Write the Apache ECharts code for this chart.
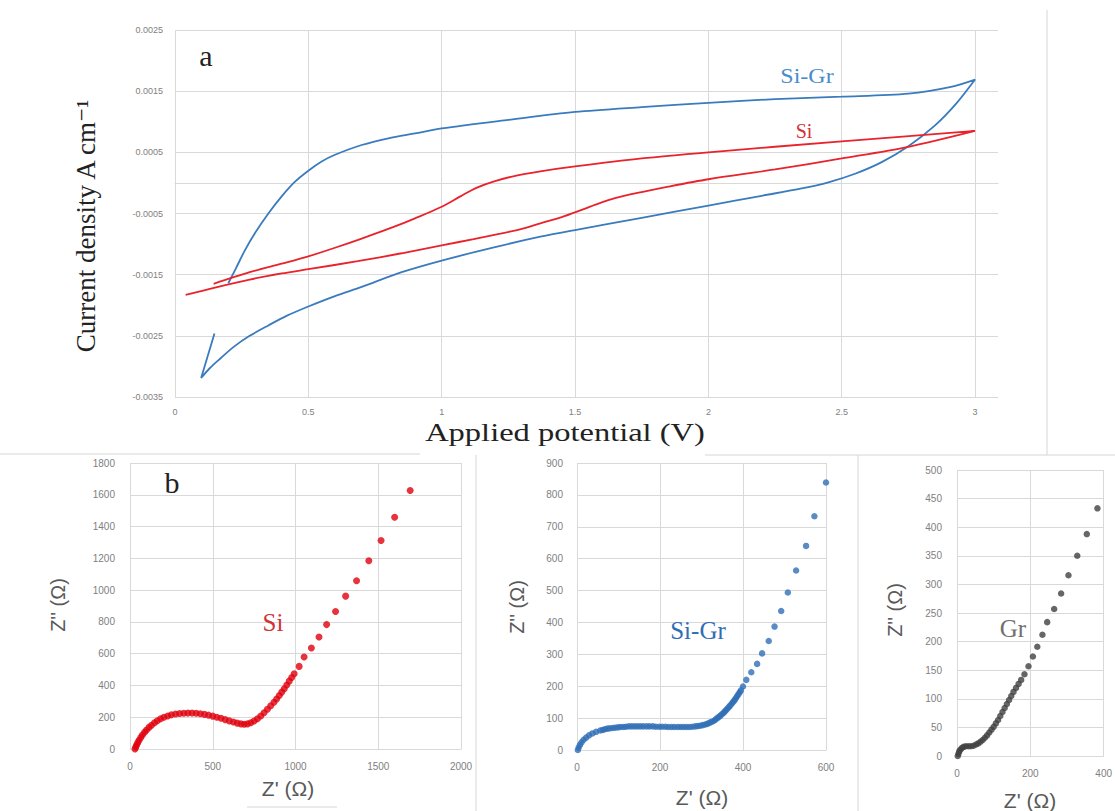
<!DOCTYPE html>
<html>
<head>
<meta charset="utf-8">
<script src="https://cdn.jsdelivr.net/npm/echarts@6/dist/echarts.min.js"></script>
<style>
  html, body { margin: 0; padding: 0; background: #fff; }
  #chart { width: 1115px; height: 811px; }
</style>
</head>
<body>
<div id="chart"></div>
<script>
// panel a: cyclic voltammetry, [potential V, current density A cm-1]
var cvSiGr = [
  [0.148, -0.00246], [0.098, -0.00319], [0.13, -0.00303], [0.17, -0.00287], [0.22, -0.00268],
  [0.28, -0.0025], [0.35, -0.00233], [0.42, -0.00217], [0.5, -0.00202], [0.6, -0.00185],
  [0.7, -0.0017], [0.85, -0.00146], [1.0, -0.00127], [1.2, -0.00105], [1.37, -0.00088],
  [1.5, -0.00077], [1.75, -0.00057], [2.0, -0.00037], [2.2, -0.00021], [2.35, -0.00009],
  [2.45, 0.00001], [2.55, 0.00015], [2.65, 0.00034], [2.75, 0.0006], [2.85, 0.00094],
  [2.93, 0.0013], [3.0, 0.00169],
  [2.91, 0.00157], [2.75, 0.00146], [2.5, 0.00141], [2.25, 0.00137], [2.0, 0.00131],
  [1.75, 0.00124], [1.5, 0.00116], [1.25, 0.00103], [1.0, 0.00089], [0.9, 0.00081],
  [0.8, 0.00073], [0.7, 0.00062], [0.6, 0.00046], [0.55, 0.00035], [0.5, 0.0002],
  [0.45, 0.00002], [0.4, -0.00022], [0.35, -0.0005], [0.3, -0.00082], [0.26, -0.00112],
  [0.228, -0.0014], [0.2, -0.00164]
]
var cvSi = [
  [0.145, -0.00165], [0.28, -0.00146], [0.4, -0.00132], [0.5, -0.0012], [0.6, -0.00106],
  [0.7, -0.00091], [0.82, -0.00072], [0.9, -0.00058], [1.0, -0.00039], [1.07, -0.00022],
  [1.13, -0.00008], [1.2, 0.00003], [1.28, 0.00012], [1.37, 0.00019], [1.5, 0.00027],
  [1.75, 0.0004], [2.0, 0.0005], [2.5, 0.00068], [3.0, 0.00085],
  [2.75, 0.00059], [2.5, 0.0004], [2.25, 0.00022], [2.0, 0.00006], [1.85, -0.00006],
  [1.75, -0.00015], [1.65, -0.00025], [1.58, -0.00035], [1.52, -0.00045], [1.45, -0.00056],
  [1.37, -0.00066], [1.3, -0.00075], [1.22, -0.00083], [1.12, -0.00092], [1.0, -0.00102],
  [0.85, -0.00115], [0.685, -0.00128], [0.5, -0.00141], [0.4, -0.00148], [0.28, -0.00158],
  [0.15, -0.00171], [0.04, -0.00183]
]

// panel b: Nyquist plots, [Z' ohm, Z'' ohm]
var eisSi = [
  [30, 0], [35, 12], [40, 25], [47, 40], [55, 55], [65, 72], [75, 88], [88, 105], [100, 120],
  [115, 136], [130, 150], [148, 165], [165, 178], [185, 190], [205, 200], [228, 208], [250, 215],
  [275, 220], [300, 223], [325, 225], [350, 226], [375, 226], [400, 225], [425, 222], [450, 218],
  [475, 213], [500, 207], [525, 200], [550, 193], [575, 185], [600, 177], [625, 170], [648, 163],
  [670, 158], [690, 156], [710, 158], [730, 165], [750, 176], [770, 190], [790, 208], [810, 228],
  [830, 250], [850, 272], [870, 294], [886, 315], [902, 337], [917, 358], [932, 379], [947, 403],
  [962, 427], [977, 450], [992, 474], [1022, 520], [1052, 579], [1096, 636], [1142, 705],
  [1188, 783], [1242, 865], [1303, 962], [1369, 1059], [1443, 1185], [1517, 1312],
  [1599, 1459], [1693, 1627]
]
var eisSiGr = [
  [2, 0], [4, 8], [7, 16], [11, 24], [16, 32], [22, 39], [29, 46], [37, 52], [46, 57], [56, 61],
  [62, 63], [67, 65], [73, 67], [79, 68], [86, 69], [92, 70], [99, 71], [105, 72], [112, 72],
  [118, 73], [125, 74], [132, 74], [139, 74], [146, 74], [153, 74], [160, 74], [168, 74],
  [175, 74], [183, 74], [190, 73], [198, 73], [205, 73], [213, 73], [220, 72], [228, 72],
  [235, 72], [243, 72], [250, 72], [257, 72], [264, 72], [271, 72], [278, 73], [285, 74],
  [291, 75], [297, 76], [303, 78], [309, 80], [314, 82], [319, 85], [324, 88], [329, 91],
  [333, 95], [337, 99], [341, 103], [345, 107], [349, 112], [353, 116], [356, 121], [360, 126],
  [363, 131], [367, 136], [370, 141], [374, 147], [377, 152], [380, 157], [383, 163], [386, 169],
  [389, 175], [392, 181], [395, 187], [400, 199], [408, 220], [420, 244], [434, 270],
  [446, 303], [462, 342], [476, 387], [492, 436], [508, 494], [528, 563], [552, 640], [572, 733],
  [600, 839]
]
var eisGr = [
  [2, 0], [4, 4], [6, 8], [9, 11], [13, 14], [18, 16], [24, 17], [31, 17], [38, 17], [45, 18],
  [52, 20], [58, 22], [64, 25], [70, 28], [76, 32], [82, 36], [88, 41], [94, 46], [100, 51],
  [106, 57], [112, 63], [118, 70], [124, 77], [130, 84], [136, 91], [142, 98], [148, 105],
  [154, 112], [161, 119], [168, 126], [175, 133], [184, 143], [195, 157], [207, 174], [219, 191],
  [233, 212], [246, 234], [265, 257], [284, 284], [304, 316], [328, 350], [354, 388], [383, 433]
]

var gridColor = '#d9d9d9'
var tickColor = '#808080'
var serif = '"Liberation Serif", "DejaVu Serif", serif'
var sans = '"Liberation Sans", "DejaVu Sans", sans-serif'

function plain (v) { return String(v) }

function valAxis (grid, min, max, interval, fmt, margin) {
  return {
    type: 'value',
    gridIndex: grid,
    min: min,
    max: max,
    interval: interval,
    axisLine: { show: false },
    axisTick: { show: false },
    splitLine: { show: true, lineStyle: { color: gridColor, width: 1 } },
    axisLabel: { color: tickColor, fontSize: 10, fontFamily: sans, margin: margin, formatter: fmt || plain }
  }
}

function onStep (step) {
  return function (v) {
    var k = v / step
    return Math.abs(k - Math.round(k)) < 1e-6 ? String(+v.toFixed(4)) : ''
  }
}

var xa = valAxis(0, 0, 3.086, 0.5, onStep(0.5), 10)
xa.splitLine.showMaxLine = false
xa.axisLine = { show: true, lineStyle: { color: gridColor } }
xa.axisLabel.fontSize = 9
var ya = valAxis(0, -0.0035, 0.0025, 0.001, function (v) { return v.toFixed(4) }, 12)
ya.axisLabel.fontSize = 9

var xb1 = valAxis(1, 0, 2000, 500, null, 12)
var yb1 = valAxis(1, 0, 1800, 200, null, 15)
var xb2 = valAxis(2, 0, 600, 200, null, 12)
var yb2 = valAxis(2, 0, 900, 100, null, 14)
var xb3 = valAxis(3, 0, 400, 200, null, 12)
var yb3 = valAxis(3, 0, 500, 50, null, 15);
[xb1, xb2, xb3].forEach(function (a) { a.axisLine = { show: true, lineStyle: { color: gridColor } } })

function txt (x, y, s, size, color, font, rot, sx) {
  return {
    type: 'text', x: x, y: y, rotation: rot || 0, scaleX: sx || 1, z: 10,
    style: { text: s, fontSize: size, fontFamily: font, fill: color, align: 'center', verticalAlign: 'middle' }
  }
}
function ln (x1, y1, x2, y2) {
  return { type: 'line', shape: { x1: x1, y1: y1, x2: x2, y2: y2 }, style: { stroke: '#d6d6d6', lineWidth: 1 } }
}

var chart = echarts.init(document.getElementById('chart'), null, { renderer: 'svg' })
chart.setOption({
  animation: false,
  backgroundColor: '#fff',
  grid: [
    { left: 175, top: 30, width: 823, height: 367 },
    { left: 130, top: 463, width: 331, height: 286 },
    { left: 577, top: 463, width: 249, height: 287 },
    { left: 957, top: 470, width: 153, height: 286 }
  ],
  xAxis: [xa, xb1, xb2, xb3],
  yAxis: [ya, yb1, yb2, yb3],
  series: [
    {
      name: 'Si-Gr', type: 'line', xAxisIndex: 0, yAxisIndex: 0, data: cvSiGr,
      showSymbol: false, smooth: 0.3, lineStyle: { color: '#3a7bbd', width: 1.8 }
    },
    {
      name: 'Si', type: 'line', xAxisIndex: 0, yAxisIndex: 0, data: cvSi,
      showSymbol: false, smooth: 0.3, lineStyle: { color: '#e8232b', width: 1.8 }
    },
    {
      type: 'scatter', xAxisIndex: 1, yAxisIndex: 1, data: eisSi,
      symbolSize: 7, itemStyle: { color: '#e0000c' }
    },
    {
      type: 'scatter', xAxisIndex: 2, yAxisIndex: 2, data: eisSiGr,
      symbolSize: 6.5, itemStyle: { color: '#2f6eb5' }
    },
    {
      type: 'scatter', xAxisIndex: 3, yAxisIndex: 3, data: eisGr,
      symbolSize: 6.5, itemStyle: { color: '#404040' }
    }
  ],
  graphic: [
    ln(1047, 10, 1047, 455),
    ln(0, 454, 420, 454),
    ln(705, 455, 1115, 455),
    ln(858, 455, 858, 811),
    ln(476, 455, 476, 811),
    ln(247, 807, 337, 807),
    txt(206, 55, 'a', 30, '#222', serif),
    txt(86, 226, 'Current density A cm⁻¹', 27, '#222', serif, Math.PI / 2),
    txt(565, 432, 'Applied potential (V)', 26, '#222', serif, 0, 1.25),
    txt(807, 76, 'Si-Gr', 20, '#4a8cc9', serif, 0, 1.2),
    txt(804, 131, 'Si', 20, '#d0333a', serif),
    txt(172, 482, 'b', 30, '#222', serif),
    txt(58, 605, "Z'' (Ω)", 20, '#595959', sans, Math.PI / 2),
    txt(288, 788, "Z' (Ω)", 21, '#595959', sans),
    txt(273, 622, 'Si', 25, '#d0333a', serif),
    txt(517, 607, "Z'' (Ω)", 20, '#595959', sans, Math.PI / 2),
    txt(702, 797, "Z' (Ω)", 21, '#595959', sans),
    txt(698, 630, 'Si-Gr', 25, '#2f6eb5', serif),
    txt(895, 610, "Z'' (Ω)", 20, '#595959', sans, Math.PI / 2),
    txt(1030, 800, "Z' (Ω)", 21, '#595959', sans),
    txt(1013, 628, 'Gr', 25, '#707070', serif)
  ]
})
</script>
</body>
</html>
